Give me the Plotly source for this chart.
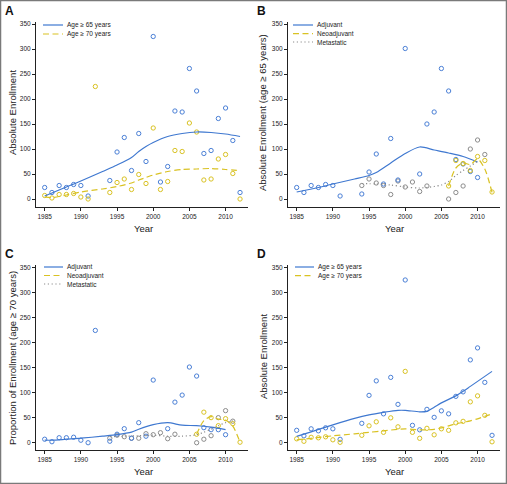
import plotly.graph_objects as go

W, H = 507, 484

# ---------------- data ----------------
# Panel A: absolute enrollment, age >= 65 / >= 70
a_years_65 = [1985, 1986, 1987, 1988, 1989, 1990, 1991, 1994, 1995, 1996, 1997, 1998, 1999, 2000,
              2001, 2002, 2003, 2004, 2005, 2006, 2007, 2008, 2009, 2010, 2011, 2012]
a_vals_65 = [23, 13, 27, 23, 29, 27, 6, 37, 94, 123, 57, 131, 75, 325,
             34, 65, 176, 174, 261, 216, 91, 97, 161, 182, 117, 13]
a_years_70 = [1985, 1986, 1987, 1988, 1989, 1990, 1991, 1992, 1994, 1995, 1996, 1997, 1998, 1999,
              2000, 2001, 2002, 2003, 2004, 2005, 2006, 2007, 2008, 2009, 2010, 2011, 2012]
a_vals_70 = [7, 2, 9, 9, 11, 4, 0, 225, 13, 33, 40, 19, 49, 31,
             142, 19, 35, 97, 95, 152, 134, 38, 40, 80, 89, 51, 0]
a_fit_years = [1985, 1986, 1988, 1990, 1993, 1995, 1997, 1998, 1999, 2000, 2002, 2004, 2006, 2008, 2010, 2012]
a_fit_65 = [6, 12, 24, 36, 55, 68, 83, 95, 105, 113, 125, 131, 134, 133, 130, 125]
a_fit_70 = [4, 3, 8, 14, 20, 25, 32, 38, 43, 48, 55, 59, 60, 61, 59, 57]

# Panel B: absolute enrollment (age >= 65) by setting
b_adj_years = [1985, 1986, 1987, 1988, 1989, 1990, 1991, 1994, 1995, 1996, 1997, 1998, 1999, 2000,
               2002, 2003, 2004, 2005, 2006, 2007, 2008, 2009, 2010]
b_adj_vals = [23, 13, 27, 23, 29, 27, 6, 10, 54, 90, 30, 121, 38, 301,
              50, 150, 174, 261, 216, 79, 70, 55, 43]
b_neo_years = [2006, 2007, 2008, 2009, 2010, 2011, 2012]
b_neo_vals = [26, 77, 71, 57, 85, 77, 14]
b_met_years = [1994, 1995, 1996, 1997, 1998, 1999, 2000, 2001, 2002, 2003, 2006, 2007, 2008, 2009, 2010, 2011]
b_met_vals = [27, 40, 32, 27, 9, 36, 24, 34, 15, 26, 0, 13, 26, 100, 118, 89]
b_fit_adj_years = [1985, 1988, 1990, 1993, 1995, 1996, 1998, 2000, 2002, 2004, 2006, 2008, 2010]
b_fit_adj = [14, 23, 30, 40, 47, 53, 72, 91, 104, 98, 92, 85, 74]
b_fit_neo_years = [2006, 2007, 2008, 2009, 2010, 2011, 2012]
b_fit_neo = [26, 62, 72, 69, 80, 60, 13]
b_fit_met_years = [1994, 1996, 1998, 2000, 2002, 2004, 2005, 2006, 2007, 2008, 2009, 2010]
b_fit_met = [31, 30, 28, 24, 22, 25, 28, 35, 47, 57, 66, 75]

# Panel C: enrollment (age >= 70) by setting
c_adj_years = [1985, 1986, 1987, 1988, 1989, 1990, 1991, 1992, 1994, 1995, 1996, 1997, 1998, 1999,
               2000, 2002, 2003, 2004, 2005, 2006, 2007, 2008, 2009, 2010]
c_adj_vals = [7, 2, 10, 10, 11, 5, 0, 224, 3, 17, 28, 9, 40, 13,
              125, 28, 81, 95, 151, 133, 30, 26, 26, 16]
c_neo_years = [2006, 2007, 2008, 2009, 2010, 2011, 2012]
c_neo_vals = [17, 61, 50, 34, 48, 38, 1]
c_met_years = [1994, 1995, 1996, 1997, 1998, 1999, 2000, 2001, 2002, 2003, 2006, 2007, 2008, 2009, 2010, 2011]
c_met_vals = [9, 15, 12, 9, 9, 18, 16, 20, 8, 17, 0, 7, 14, 50, 64, 43]
c_fit_adj_years = [1985, 1986, 1988, 1990, 1993, 1995, 1997, 1998, 2000, 2002, 2004, 2006, 2008, 2010]
c_fit_adj = [5, 5, 7, 9, 13, 16, 21, 27, 36, 40, 35, 34, 31, 26]
c_fit_neo_years = [2006, 2007, 2008, 2009, 2010, 2011, 2012]
c_fit_neo = [17, 44, 52, 47, 45, 33, 1]
c_fit_met_years = [1994, 1996, 1998, 2000, 2002, 2004, 2006, 2007, 2008, 2009, 2010, 2011]
c_fit_met = [12, 13, 14, 15, 13, 13, 16, 21, 27, 34, 40, 44]

# Panel D: absolute enrollment, age >= 65 / >= 70
d_years = [1985, 1986, 1987, 1988, 1989, 1990, 1991, 1994, 1995, 1996, 1997, 1998, 1999, 2000,
           2001, 2002, 2003, 2004, 2005, 2006, 2007, 2008, 2009, 2010, 2011, 2012]
d_vals_65 = [24, 13, 27, 23, 29, 27, 6, 38, 94, 123, 57, 130, 76, 325,
             34, 25, 66, 50, 63, 57, 92, 101, 165, 189, 120, 14]
d_vals_70 = [7, 2, 10, 9, 11, 5, 0, 14, 33, 41, 20, 49, 31, 142,
             20, 8, 28, 15, 27, 24, 39, 42, 81, 93, 54, 1]
d_fit_years = [1985, 1987, 1990, 1993, 1995, 1997, 1999, 2000, 2002, 2003, 2004, 2005, 2007, 2008, 2009, 2010, 2011, 2012]
d_fit_65 = [12, 21, 35, 48, 55, 60, 64, 64, 61, 62, 70, 79, 93, 102, 112, 122, 132, 142]
d_fit_70 = [5, 8, 13, 17, 20, 23, 26, 27, 25, 25, 26, 29, 37, 40, 43, 47, 52, 57]

x_ticks = [1985, 1990, 1995, 2000, 2005, 2010]
y_ticks = [0, 50, 100, 150, 200, 250, 300, 350]

names_age = ["Age \u2265 65 years", "Age \u2265 70 years"]
names_set = ["Adjuvant", "Neoadjuvant", "Metastatic"]
panel_letters = ["A", "B", "C", "D"]
y_titles = ["Absolute Enrollment",
            "Absolute Enrollment (age \u2265 65 years)",
            "Proportion of Enrollment (age \u2265 70 years)",
            "Absolute Enrollment"]
x_title = "Year"

# ---------------- style ----------------
BLUE = "#4a7fd6"
BLUE_LINE = "#3f78d0"
YEL = "#d9c223"
GRAY = "#8c8c8c"
SANS = "Liberation Sans, Arial, Helvetica, sans-serif"
DASH = "6px,3.5px"
DOT = "1.2px,2.6px"

# panel geometry in pixels: (left, right, top, bottom)
geo = [(36, 248, 22, 207), (288, 500, 22, 207), (36, 248, 265, 450), (288, 500, 265, 450)]
yranges = [[-16, 354], [-16, 354], [-14.5, 354.5], [-15.4, 355]]
xrange_ = [1983.8, 2013.1]

fig = go.Figure()

def px(x):
    return x / W

def py(y):
    return 1 - y / H

def add_pts(i, xs, ys, color):
    s = "" if i == 0 else str(i + 1)
    fig.add_trace(go.Scatter(x=xs, y=ys, mode="markers", xaxis="x" + s, yaxis="y" + s,
                             marker=dict(symbol="circle-open", size=4.3, color=color, line=dict(width=1, color=color)),
                             showlegend=False, hoverinfo="x+y"))

def add_fit(i, xs, ys, color, dash, name):
    s = "" if i == 0 else str(i + 1)
    fig.add_trace(go.Scatter(x=xs, y=ys, mode="lines", xaxis="x" + s, yaxis="y" + s, name=name,
                             line=dict(color=color, width=1.2, dash=dash, shape="spline", smoothing=0.8),
                             showlegend=False))

# Panel A
add_pts(0, a_years_65, a_vals_65, BLUE)
add_pts(0, a_years_70, a_vals_70, YEL)
add_fit(0, a_fit_years, a_fit_65, BLUE_LINE, "solid", names_age[0])
add_fit(0, a_fit_years, a_fit_70, YEL, DASH, names_age[1])
# Panel B
add_pts(1, b_met_years, b_met_vals, GRAY)
add_pts(1, b_adj_years, b_adj_vals, BLUE)
add_pts(1, b_neo_years, b_neo_vals, YEL)
add_fit(1, b_fit_adj_years, b_fit_adj, BLUE_LINE, "solid", names_set[0])
add_fit(1, b_fit_neo_years, b_fit_neo, YEL, DASH, names_set[1])
add_fit(1, b_fit_met_years, b_fit_met, GRAY, DOT, names_set[2])
# Panel C
add_pts(2, c_met_years, c_met_vals, GRAY)
add_pts(2, c_adj_years, c_adj_vals, BLUE)
add_pts(2, c_neo_years, c_neo_vals, YEL)
add_fit(2, c_fit_adj_years, c_fit_adj, BLUE_LINE, "solid", names_set[0])
add_fit(2, c_fit_neo_years, c_fit_neo, YEL, DASH, names_set[1])
add_fit(2, c_fit_met_years, c_fit_met, GRAY, DOT, names_set[2])
# Panel D
add_pts(3, d_years, d_vals_65, BLUE)
add_pts(3, d_years, d_vals_70, YEL)
add_fit(3, d_fit_years, d_fit_65, BLUE_LINE, "solid", names_age[0])
add_fit(3, d_fit_years, d_fit_70, YEL, DASH, names_age[1])

layout = dict(width=W, height=H, margin=dict(l=0, r=0, t=0, b=0),
              paper_bgcolor="white", plot_bgcolor="white", showlegend=False,
              font=dict(family=SANS, color="#222"))
annotations = []
shapes = []
for i, (l, r, t, b) in enumerate(geo):
    s = "" if i == 0 else str(i + 1)
    layout["xaxis" + s] = dict(domain=[px(l), px(r)], range=xrange_, anchor="y" + s,
                               tickvals=x_ticks, ticks="outside", ticklen=3, tickwidth=1, tickcolor="#222",
                               showline=True, linecolor="#222", linewidth=1, showgrid=False, zeroline=False,
                               tickfont=dict(size=6.5, family=SANS, color="#222"), fixedrange=True,
                               automargin=False)
    layout["yaxis" + s] = dict(domain=[py(b), py(t)], range=yranges[i], anchor="x" + s,
                               tickvals=y_ticks, ticks="outside", ticklen=3, tickwidth=1, tickcolor="#222",
                               showline=True, linecolor="#222", linewidth=1, showgrid=False, zeroline=False,
                               tickfont=dict(size=6.5, family=SANS, color="#222"), fixedrange=True,
                               automargin=False)

# panel letters, axis titles
letter_pos = [(9, 11), (261, 11), (9, 254), (261, 254)]
ytitle_pos = [(12, 113), (262, 113), (12, 358), (263, 357)]
xtitle_pos = [(143, 228), (394, 228), (143, 471), (394, 471)]
for i in range(4):
    lx, ly = letter_pos[i]
    annotations.append(dict(text="<b>%s</b>" % panel_letters[i], x=px(lx), y=py(ly), xref="paper", yref="paper",
                            showarrow=False, xanchor="center", yanchor="middle",
                            font=dict(family=SANS, size=12, color="#111")))
    tx, ty = ytitle_pos[i]
    annotations.append(dict(text=y_titles[i], x=px(tx), y=py(ty), xref="paper", yref="paper", textangle=-90,
                            showarrow=False, xanchor="center", yanchor="middle",
                            font=dict(family=SANS, size=9.5, color="#222")))
    xx, xy = xtitle_pos[i]
    annotations.append(dict(text=x_title, x=px(xx), y=py(xy), xref="paper", yref="paper",
                            showarrow=False, xanchor="center", yanchor="middle",
                            font=dict(family=SANS, size=9.5, color="#222")))

# compact legends drawn as sample line + label
legend_specs = [
    (43, 63, [25, 34], names_age, [BLUE_LINE, YEL], ["solid", DASH]),
    (293, 313, [25, 33.7, 42], names_set, [BLUE_LINE, YEL, GRAY], ["solid", DASH, DOT]),
    (44, 63, [267, 275.5, 284], names_set, [BLUE_LINE, YEL, GRAY], ["solid", DASH, DOT]),
    (295, 314, [267, 275.7], names_age, [BLUE_LINE, YEL], ["solid", DASH]),
]
for x0, x1, rows, names, cols, dashes in legend_specs:
    for yy, nm, c, d in zip(rows, names, cols, dashes):
        shapes.append(dict(type="line", xref="paper", yref="paper", x0=px(x0), x1=px(x1), y0=py(yy), y1=py(yy),
                           line=dict(color=c, width=1.2, dash=d)))
        annotations.append(dict(text=nm, x=px(x1 + 2), y=py(yy), xref="paper", yref="paper", showarrow=False,
                                xanchor="left", yanchor="middle", font=dict(family=SANS, size=6.5, color="#222")))

# outer frame
shapes.append(dict(type="rect", xref="paper", yref="paper", x0=0, x1=1, y0=0, y1=1,
                   line=dict(color="#7a7a7a", width=2.5), fillcolor="rgba(0,0,0,0)"))

layout["annotations"] = annotations
layout["shapes"] = shapes
fig.update_layout(**layout)
fig.write_html("out.html", config={"displayModeBar": False},
               post_script="document.body.style.margin='0';document.body.style.overflow='hidden';")
